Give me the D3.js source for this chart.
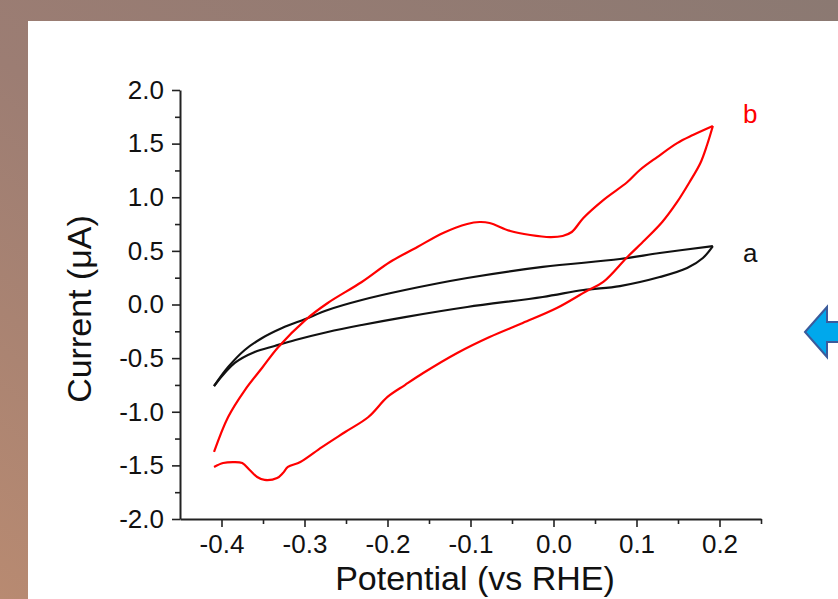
<!DOCTYPE html>
<html>
<head>
<meta charset="utf-8">
<script src="https://cdn.jsdelivr.net/npm/d3@7"></script>
<style>
  body { margin: 0; }
  text { font-family: "Liberation Sans", Arial, sans-serif; }
</style>
</head>
<body>
<svg id="chart"></svg>
<script>
// curve a (black), forward and reverse branches
const aFwdV = [-0.409, -0.392, -0.372, -0.351, -0.327, -0.299, -0.272, -0.231, -0.179, -0.104, -0.013, 0.080, 0.128, 0.192];
const aFwdI = [-0.76, -0.583, -0.424, -0.312, -0.219, -0.135, -0.051, 0.042, 0.135, 0.247, 0.350, 0.424, 0.480, 0.545];
const aRevV = [0.192, 0.180, 0.161, 0.128, 0.080, 0.036, -0.013, -0.104, -0.179, -0.231, -0.272, -0.311, -0.336, -0.360, -0.384, -0.409];
const aRevI = [0.545, 0.434, 0.340, 0.256, 0.172, 0.135, 0.070, -0.023, -0.117, -0.191, -0.256, -0.331, -0.387, -0.443, -0.545, -0.76];

// curve b (red)
const bFwdV = [-0.409, -0.392, -0.372, -0.351, -0.332, -0.299, -0.272, -0.231, -0.197, -0.164, -0.133, -0.104, -0.089, -0.077, -0.052, -0.028, -0.004, 0.011, 0.022, 0.036, 0.060, 0.089, 0.104, 0.125, 0.149, 0.168, 0.192];
const bFwdI = [-1.375, -1.049, -0.800, -0.590, -0.400, -0.145, 0.014, 0.210, 0.396, 0.536, 0.667, 0.751, 0.769, 0.760, 0.685, 0.648, 0.629, 0.639, 0.676, 0.807, 0.974, 1.142, 1.254, 1.375, 1.505, 1.580, 1.664];
const bRevV = [0.192, 0.185, 0.177, 0.164, 0.149, 0.131, 0.110, 0.089, 0.060, 0.040, 0.004, -0.037, -0.077, -0.116, -0.157, -0.179, -0.200, -0.223, -0.251, -0.279, -0.305, -0.320, -0.326, -0.333, -0.348, -0.357, -0.366, -0.375, -0.386, -0.398, -0.409];
const bRevI = [1.664, 1.487, 1.319, 1.142, 0.956, 0.769, 0.601, 0.443, 0.210, 0.126, -0.033, -0.172, -0.303, -0.452, -0.639, -0.751, -0.862, -1.049, -1.189, -1.33, -1.469, -1.515, -1.571, -1.618, -1.636, -1.608, -1.543, -1.478, -1.469, -1.478, -1.515];

const xTicks = [-0.4, -0.3, -0.2, -0.1, 0.0, 0.1, 0.2];
const xTickLabels = ["-0.4", "-0.3", "-0.2", "-0.1", "0.0", "0.1", "0.2"];
const xMinor = [-0.35, -0.25, -0.15, -0.05, 0.05, 0.15, 0.25];
const yTicks = [-2.0, -1.5, -1.0, -0.5, 0.0, 0.5, 1.0, 1.5, 2.0];
const yTickLabels = ["-2.0", "-1.5", "-1.0", "-0.5", "0.0", "0.5", "1.0", "1.5", "2.0"];
const yMinor = [-1.75, -1.25, -0.75, -0.25, 0.25, 0.75, 1.25, 1.75];

const W = 838, H = 599;

const svg = d3.select('#chart')
  .attr('width', W)
  .attr('height', H);

// background frame
const defs = svg.append('defs');
const grad = defs.append('linearGradient')
  .attr('id', 'bg')
  .attr('x1', '100%').attr('y1', '0%')
  .attr('x2', '0%').attr('y2', '100%');
grad.append('stop').attr('offset', '0%').attr('stop-color', '#8b7972');
grad.append('stop').attr('offset', '55%').attr('stop-color', '#9c7d73');
grad.append('stop').attr('offset', '100%').attr('stop-color', '#b88a71');

svg.append('rect').attr('width', W).attr('height', H).attr('fill', 'url(#bg)');
svg.append('rect').attr('x', 28).attr('y', 21).attr('width', W - 28).attr('height', H - 21).attr('fill', '#fff');

const x = d3.scaleLinear().domain([-0.45, 0.25]).range([180, 761]);
const y = d3.scaleLinear().domain([-2, 2]).range([519, 90]);

const axisColor = '#222';

// minor ticks
svg.append('g')
  .attr('transform', 'translate(0,519)')
  .call(d3.axisBottom(x).tickValues(xMinor).tickSize(5).tickSizeOuter(0).tickFormat(''))
  .call(g => g.select('.domain').remove());
svg.append('g')
  .attr('transform', 'translate(180,0)')
  .call(d3.axisLeft(y).tickValues(yMinor).tickSize(5).tickSizeOuter(0).tickFormat(''))
  .call(g => g.select('.domain').remove());

const xAxis = svg.append('g')
  .attr('transform', 'translate(0,519)')
  .call(d3.axisBottom(x)
    .tickValues(xTicks)
    .tickSize(8)
    .tickSizeOuter(0)
    .tickPadding(8)
    .tickFormat((d, i) => xTickLabels[i]));

const yAxis = svg.append('g')
  .attr('transform', 'translate(180,0)')
  .call(d3.axisLeft(y)
    .tickValues(yTicks)
    .tickSize(8)
    .tickSizeOuter(0)
    .tickPadding(8)
    .tickFormat((d, i) => yTickLabels[i]));

svg.selectAll('.tick line').attr('stroke', axisColor).attr('stroke-width', 1.6);
svg.selectAll('.domain').attr('stroke', axisColor).attr('stroke-width', 2);
svg.selectAll('.tick text')
  .attr('fill', '#111')
  .style('font-size', '26px')
  .style('font-family', '"Liberation Sans", Arial, sans-serif');

// axis titles
svg.append('text')
  .attr('x', 475)
  .attr('y', 590)
  .attr('text-anchor', 'middle')
  .attr('fill', '#111')
  .style('font-size', '34px')
  .text('Potential (vs RHE)');

svg.append('text')
  .attr('transform', 'translate(91,309) rotate(-90)')
  .attr('text-anchor', 'middle')
  .attr('fill', '#111')
  .style('font-size', '34px')
  .text('Current (\u03bcA)');

// curves
const line = d3.line()
  .x(d => x(d[0]))
  .y(d => y(d[1]))
  .curve(d3.curveCatmullRom.alpha(0.5));

const branches = [
  { v: aFwdV, i: aFwdI, color: '#111' },
  { v: aRevV, i: aRevI, color: '#111' },
  { v: bFwdV, i: bFwdI, color: '#ff0000' },
  { v: bRevV, i: bRevI, color: '#ff0000' }
];

svg.selectAll('path.cv')
  .data(branches)
  .enter()
  .append('path')
  .attr('class', 'cv')
  .attr('fill', 'none')
  .attr('stroke', d => d.color)
  .attr('stroke-width', 2.2)
  .attr('stroke-linejoin', 'round')
  .attr('d', d => line(d.v.map((v, k) => [v, d.i[k]])));

// curve labels
svg.append('text').attr('x', 743).attr('y', 123).attr('fill', '#ff0000').style('font-size', '26px').text('b');
svg.append('text').attr('x', 743).attr('y', 262).attr('fill', '#111').style('font-size', '26px').text('a');

// blue arrow on the right edge
const arrowPts = [[805, 332], [827, 307], [827, 322], [845, 322], [845, 342], [827, 342], [827, 357]];
svg.append('polygon')
  .attr('points', arrowPts.map(p => p.join(',')).join(' '))
  .attr('fill', '#00a8ec')
  .attr('stroke', '#3b5b9b')
  .attr('stroke-width', 2)
  .attr('stroke-linejoin', 'miter');
</script>
</body>
</html>
